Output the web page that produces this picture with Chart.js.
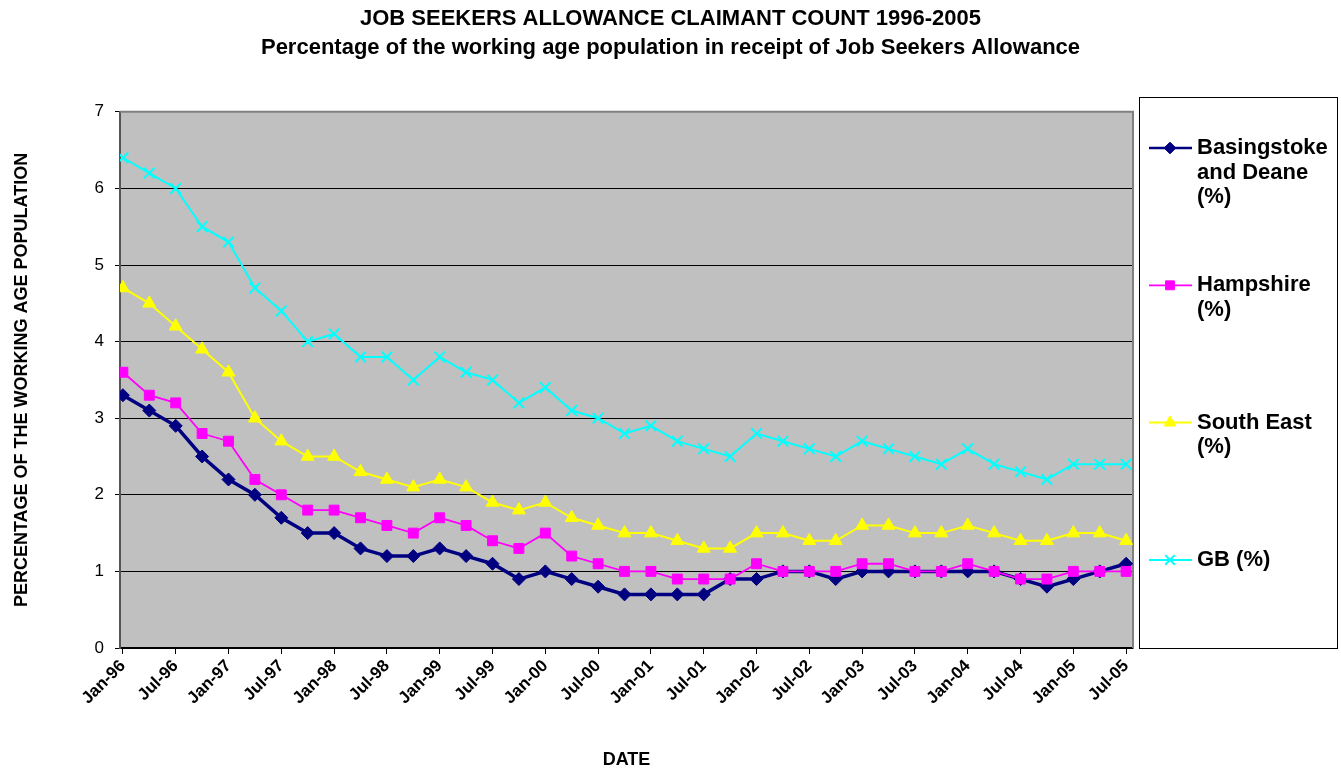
<!DOCTYPE html>
<html>
<head>
<meta charset="utf-8">
<script src="https://cdn.jsdelivr.net/npm/chart.js@4/dist/chart.umd.min.js"></script>
<style>
  html, body { margin: 0; padding: 0; background: #fff; }
  #wrap { width: 1341px; height: 769px; }
</style>
</head>
<body>
<div id="wrap"><canvas id="jsa-chart"></canvas></div>
<script>
const quarters = [
    "Jan-96", "Apr-96", "Jul-96", "Oct-96", "Jan-97", "Apr-97", "Jul-97", "Oct-97",
    "Jan-98", "Apr-98", "Jul-98", "Oct-98", "Jan-99", "Apr-99", "Jul-99", "Oct-99",
    "Jan-00", "Apr-00", "Jul-00", "Oct-00", "Jan-01", "Apr-01", "Jul-01", "Oct-01",
    "Jan-02", "Apr-02", "Jul-02", "Oct-02", "Jan-03", "Apr-03", "Jul-03", "Oct-03",
    "Jan-04", "Apr-04", "Jul-04", "Oct-04", "Jan-05", "Apr-05", "Jul-05"
];

const basingstoke = [3.3, 3.1, 2.9, 2.5, 2.2, 2.0, 1.7, 1.5, 1.5, 1.3, 1.2, 1.2, 1.3, 1.2, 1.1, 0.9,
    1.0, 0.9, 0.8, 0.7, 0.7, 0.7, 0.7, 0.9, 0.9, 1.0, 1.0, 0.9, 1.0, 1.0, 1.0, 1.0,
    1.0, 1.0, 0.9, 0.8, 0.9, 1.0, 1.1];
const hampshire = [3.6, 3.3, 3.2, 2.8, 2.7, 2.2, 2.0, 1.8, 1.8, 1.7, 1.6, 1.5, 1.7, 1.6, 1.4, 1.3,
    1.5, 1.2, 1.1, 1.0, 1.0, 0.9, 0.9, 0.9, 1.1, 1.0, 1.0, 1.0, 1.1, 1.1, 1.0, 1.0,
    1.1, 1.0, 0.9, 0.9, 1.0, 1.0, 1.0];
const southEast = [4.7, 4.5, 4.2, 3.9, 3.6, 3.0, 2.7, 2.5, 2.5, 2.3, 2.2, 2.1, 2.2, 2.1, 1.9, 1.8,
    1.9, 1.7, 1.6, 1.5, 1.5, 1.4, 1.3, 1.3, 1.5, 1.5, 1.4, 1.4, 1.6, 1.6, 1.5, 1.5,
    1.6, 1.5, 1.4, 1.4, 1.5, 1.5, 1.4];
const gb = [6.4, 6.2, 6.0, 5.5, 5.3, 4.7, 4.4, 4.0, 4.1, 3.8, 3.8, 3.5, 3.8, 3.6, 3.5, 3.2,
    3.4, 3.1, 3.0, 2.8, 2.9, 2.7, 2.6, 2.5, 2.8, 2.7, 2.6, 2.5, 2.7, 2.6, 2.5, 2.4,
    2.6, 2.4, 2.3, 2.2, 2.4, 2.4, 2.4];

const seriesNames = ["Basingstoke and Deane (%)", "Hampshire (%)", "South East (%)", "GB (%)"];
const yTicks = [0, 1, 2, 3, 4, 5, 6, 7];

const fontFamily = '"Liberation Sans", Arial, sans-serif';

// quarterly values -> {x, y} for the linear x axis
function toPoints(values) {
    return values.map((v, i) => ({ x: i, y: v }));
}

// grey plot area + grey frame on top/right like the Excel original
const plotArea = {
    id: 'plotArea',
    beforeDraw(chart) {
        const { ctx, chartArea: a } = chart;
        ctx.save();
        ctx.fillStyle = '#c0c0c0';
        ctx.fillRect(a.left, a.top, a.right - a.left, a.bottom - a.top);
        ctx.restore();
    },
    beforeDatasetsDraw(chart) {
        const { ctx, chartArea: a } = chart;
        ctx.save();
        ctx.strokeStyle = '#808080';
        ctx.lineWidth = 2;
        ctx.beginPath();
        ctx.moveTo(a.left, a.top);
        ctx.lineTo(a.right, a.top);
        ctx.lineTo(a.right, a.bottom);
        ctx.stroke();
        ctx.restore();
    }
};

function wrapText(ctx, text, maxWidth) {
    const words = text.split(' ');
    const lines = [];
    let line = '';
    words.forEach(w => {
        const test = line ? line + ' ' + w : w;
        if (line && ctx.measureText(test).width > maxWidth) {
            lines.push(line);
            line = w;
        } else {
            line = test;
        }
    });
    if (line) lines.push(line);
    return lines;
}

// boxed legend on the right, entries spread over the full height
const sideLegend = {
    id: 'sideLegend',
    afterDraw(chart) {
        const ctx = chart.ctx;
        const box = { left: 1139, top: 97, right: 1337, bottom: 648 };
        ctx.save();
        ctx.fillStyle = '#fff';
        ctx.fillRect(box.left, box.top, box.right - box.left, box.bottom - box.top);
        ctx.strokeStyle = '#000';
        ctx.lineWidth = 1;
        ctx.strokeRect(box.left + 0.5, box.top + 0.5, box.right - box.left, box.bottom - box.top);

        ctx.font = 'bold 22px ' + fontFamily;
        ctx.textBaseline = 'middle';
        chart.data.datasets.forEach((ds, i) => {
            const y = 148 + i * 137.3;
            ctx.strokeStyle = ds.borderColor;
            ctx.lineWidth = Math.min(ds.borderWidth, 2.5);
            ctx.beginPath();
            ctx.moveTo(box.left + 10, y);
            ctx.lineTo(box.left + 53, y);
            ctx.stroke();
            ctx.fillStyle = ds.backgroundColor;
            ctx.lineWidth = ds.pointBorderWidth;
            Chart.helpers.drawPoint(ctx, {
                pointStyle: ds.pointStyle,
                radius: ds.pointRadius * 0.9,
                borderWidth: ds.pointBorderWidth,
                rotation: 0
            }, box.left + 31, y);
            ctx.fillStyle = '#000';
            wrapText(ctx, ds.label, 140).forEach((ln, k) => {
                ctx.fillText(ln, box.left + 58, y + k * 24.5);
            });
        });
        ctx.restore();
    }
};

const jsaChart = document.getElementById("jsa-chart");

const jsaData = {
    datasets: [{
        label: seriesNames[0],
        data: toPoints(basingstoke),
        borderColor: '#000080',
        backgroundColor: '#000080',
        borderWidth: 3.5,
        pointStyle: 'rectRot',
        pointRadius: 6.5,
        pointBorderWidth: 1,
        order: 4
    }, {
        label: seriesNames[1],
        data: toPoints(hampshire),
        borderColor: '#ff00ff',
        backgroundColor: '#ff00ff',
        borderWidth: 1.8,
        pointStyle: 'rect',
        pointRadius: 7,
        pointBorderWidth: 1,
        order: 3
    }, {
        label: seriesNames[2],
        data: toPoints(southEast),
        borderColor: '#ffff00',
        backgroundColor: '#ffff00',
        borderWidth: 2,
        pointStyle: 'triangle',
        pointRadius: 7.5,
        pointBorderWidth: 1,
        order: 2
    }, {
        label: seriesNames[3],
        data: toPoints(gb),
        borderColor: '#00ffff',
        backgroundColor: '#00ffff',
        borderWidth: 2,
        pointStyle: 'crossRot',
        pointRadius: 7.5,
        pointBorderWidth: 2,
        order: 1
    }]
};

const jsaOptions = {
    responsive: true,
    maintainAspectRatio: false,
    devicePixelRatio: 1,
    animation: false,
    layout: {
        padding: 0
    },
    elements: {
        line: { tension: 0 }
    },
    scales: {
        x: {
            type: 'linear',
            min: -0.11,
            max: 38.26,
            afterBuildTicks: scale => {
                scale.ticks = quarters.map((q, i) => i).filter(i => i % 2 === 0).map(v => ({ value: v }));
            },
            afterFit: scale => { scale.height = 121; },
            ticks: {
                autoSkip: false,
                minRotation: 45,
                maxRotation: 45,
                padding: 2,
                color: '#000',
                font: { family: fontFamily, size: 17, weight: 'bold' },
                callback: v => quarters[v]
            },
            grid: { drawOnChartArea: false, color: '#000', tickLength: 6 },
            border: { color: '#000', width: 1.5 },
            title: {
                display: true,
                text: 'DATE',
                color: '#000',
                font: { family: fontFamily, size: 18, weight: 'bold' },
                padding: { top: 0, bottom: -2 }
            }
        },
        y: {
            min: 0,
            max: 7,
            afterBuildTicks: scale => {
                scale.ticks = yTicks.map(v => ({ value: v }));
            },
            afterFit: scale => { scale.width = 120; },
            ticks: {
                color: '#000',
                padding: 11,
                font: { family: fontFamily, size: 17 }
            },
            grid: { color: '#000', tickLength: 5 },
            border: { color: '#555', width: 2 },
            title: {
                display: true,
                text: 'PERCENTAGE OF THE WORKING AGE POPULATION',
                color: '#000',
                font: { family: fontFamily, size: 18, weight: 'bold' },
                padding: { top: 11, bottom: 0 }
            }
        },
        // empty right-hand axis: only reserves the room the legend box sits in
        legendSpace: {
            type: 'linear',
            position: 'right',
            display: true,
            afterFit: scale => { scale.width = 208; },
            ticks: { display: false },
            grid: { display: false },
            border: { display: false }
        }
    },
    plugins: {
        legend: { display: false },
        tooltip: { enabled: false },
        title: {
            display: true,
            text: 'JOB SEEKERS ALLOWANCE CLAIMANT COUNT 1996-2005',
            color: '#000',
            font: { family: fontFamily, size: 22, weight: 'bold' },
            padding: { top: 6, bottom: 2 }
        },
        subtitle: {
            display: true,
            text: 'Percentage of the working age population in receipt of Job Seekers Allowance',
            color: '#000',
            font: { family: fontFamily, size: 22, weight: 'bold' },
            padding: { top: 0, bottom: 51 }
        }
    }
};

let jsaChartShow = new Chart(jsaChart, {
    type: 'line',
    data: jsaData,
    options: jsaOptions,
    plugins: [plotArea, sideLegend]
});
</script>
</body>
</html>
